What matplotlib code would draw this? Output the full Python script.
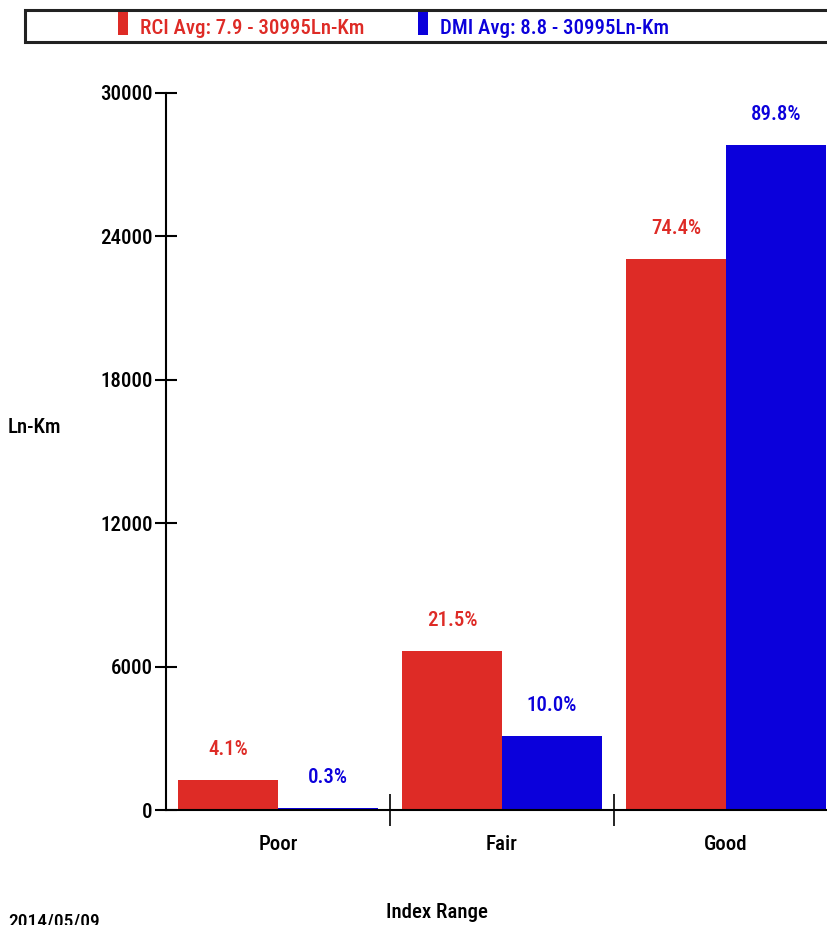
import numpy as np
import matplotlib
matplotlib.use("Agg")
import matplotlib.pyplot as plt
from matplotlib.patches import Rectangle
from matplotlib.ticker import FixedLocator

# ── Data ──────────────────────────────────────────────────────────────────────
CATEGORIES = ["Poor", "Fair", "Good"]
RCI_LNKM = [1271, 6664, 23060]
DMI_LNKM = [93, 3100, 27834]
RCI_PCT = ["4.1%", "21.5%", "74.4%"]
DMI_PCT = ["0.3%", "10.0%", "89.8%"]
Y_TICKS = [0, 6000, 12000, 18000, 24000, 30000]
RCI_LEGEND = "RCI Avg: 7.9 - 30995Ln-Km"
DMI_LEGEND = "DMI Avg: 8.8 - 30995Ln-Km"
DATE_STAMP = "2014/05/09"

RED = "#DE2B26"
BLUE = "#0B00DB"
# narrow sans, Arial Narrow look-alike; falls back to plain sans if missing
FONT = ["Roboto Condensed", "Archivo Narrow", "Liberation Sans", "DejaVu Sans"]
FS = 15
WT = "medium"

plt.rcParams["font.family"] = FONT

W, H = 828, 925
fig = plt.figure(figsize=(W / 100, H / 100), dpi=100)


def px(x, y):
    """pixel (from top-left) -> figure fraction"""
    return x / W, 1 - y / H


# axes run past the right edge of the canvas, like the original screenshot
x0, y0 = px(166, 810)
x1, y1 = px(838, 93)
ax = fig.add_axes([x0, y0, x1 - x0, y1 - y0])

x = np.arange(len(CATEGORIES))
w = 0.445
ax.bar(x - w / 2, RCI_LNKM, width=w, color=RED, zorder=2)
ax.bar(x + w / 2, DMI_LNKM, width=w, color=BLUE, zorder=2)

for xi, v, s in zip(x, RCI_LNKM, RCI_PCT):
    ax.annotate(s, (xi - w / 2, v), xytext=(0, 30), textcoords="offset pixels",
                ha="center", va="center", color=RED, fontsize=FS, fontweight=WT)
for xi, v, s in zip(x, DMI_LNKM, DMI_PCT):
    ax.annotate(s, (xi + w / 2, v), xytext=(0, 30), textcoords="offset pixels",
                ha="center", va="center", color=BLUE, fontsize=FS, fontweight=WT)

ax.set_xlim(-0.5, 2.5)
ax.set_ylim(0, 30000)
ax.set_yticks(Y_TICKS)
ax.set_yticklabels([str(t) for t in Y_TICKS], fontsize=FS, fontweight=WT)
ax.set_xticks(x)
ax.set_xticklabels(CATEGORIES, fontsize=FS, fontweight=WT)
ax.xaxis.set_minor_locator(FixedLocator([0.5, 1.5]))

ax.tick_params(axis="y", direction="inout", length=16, width=1.5, pad=1.5)
ax.tick_params(axis="x", which="major", length=0, pad=18)
ax.tick_params(axis="x", which="minor", direction="inout", length=23, width=1.2)

for side in ("top", "right"):
    ax.spines[side].set_visible(False)
for side in ("left", "bottom"):
    ax.spines[side].set_linewidth(1.5)

# axis titles placed like the original
fig.text(*px(8, 428), "Ln-Km", ha="left", va="center", fontsize=FS, fontweight=WT)
fig.text(*px(437, 912), "Index Range", ha="center", va="center", fontsize=FS, fontweight=WT)
fig.text(*px(8, 912), DATE_STAMP, ha="left", va="top", fontsize=FS - 1, fontweight=WT)

# legend strip across the top
lx, ly = px(25, 42)
fig.patches.append(Rectangle((lx, ly), 1, 32 / H, transform=fig.transFigure,
                             facecolor="white", edgecolor="#222222", linewidth=2.2))
for rx, col, label in ((118, RED, RCI_LEGEND), (418, BLUE, DMI_LEGEND)):
    sx, sy = px(rx, 35)
    fig.patches.append(Rectangle((sx, sy), 10 / W, 23 / H, transform=fig.transFigure,
                                 facecolor=col, edgecolor="none"))
    fig.text(*px(rx + 22, 29), label, ha="left", va="center", color=col,
             fontsize=FS, fontweight=WT)

fig.savefig("out.png", dpi=100)
